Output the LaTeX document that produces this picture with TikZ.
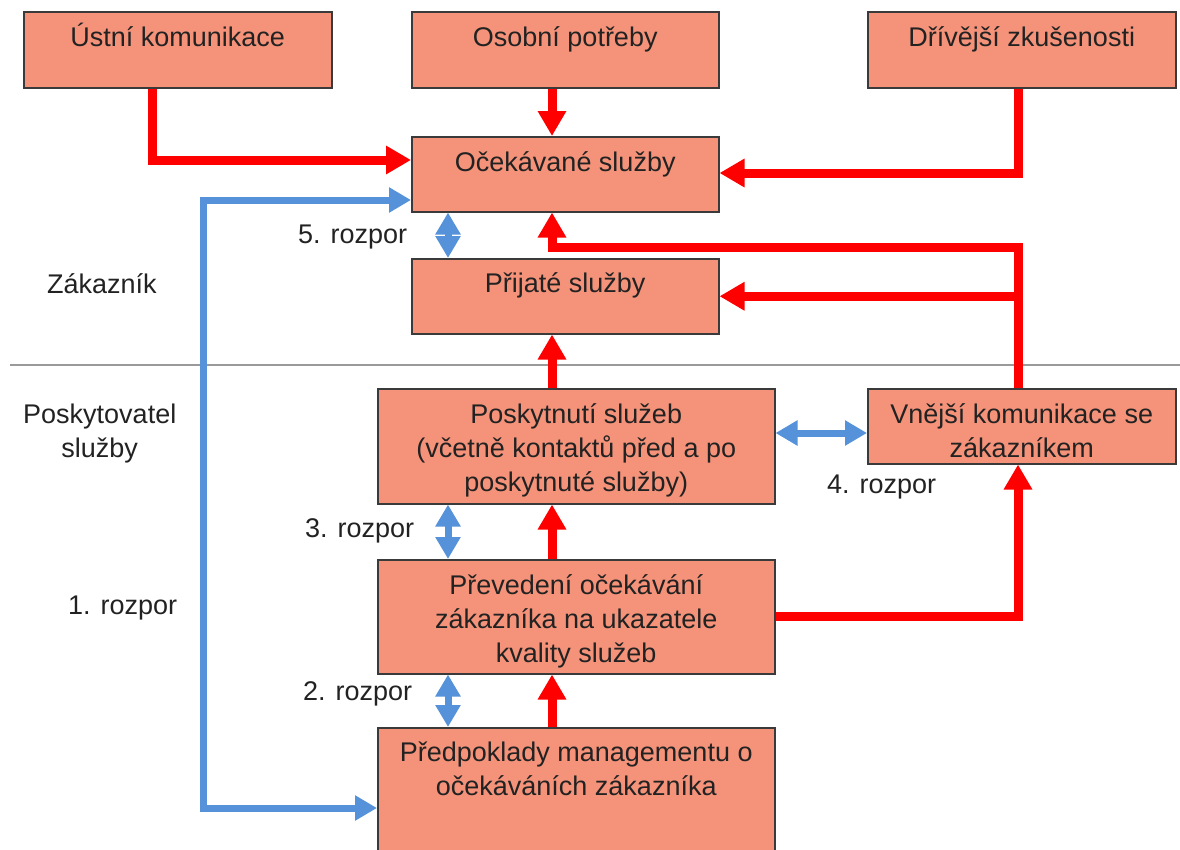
\documentclass[tikz,border=0pt]{standalone}
\usepackage{fontspec}
\setmainfont{Liberation Sans}
\usetikzlibrary{arrows.meta}
\definecolor{boxfill}{HTML}{F5937A}
\definecolor{boxline}{HTML}{3A3A3A}
\definecolor{arrred}{HTML}{FF0000}
\definecolor{arrblue}{HTML}{5592DA}
\definecolor{txt}{HTML}{222222}
\definecolor{sepgray}{HTML}{9A9A9A}
\tikzset{
  box/.style={draw=boxline, fill=boxfill, line width=1.5pt, anchor=north west, inner sep=0pt},
  boxtext/.style={anchor=base, align=center, inner sep=0pt, text=txt, font=\fontsize{27}{34}\selectfont},
  freetext/.style={anchor=base west, inner sep=0pt, text=txt, font=\fontsize{27}{34}\selectfont},
  redarr/.style={draw=arrred, line width=9pt, -{Triangle[length=25pt,width=27pt]}},
  bluearr/.style={draw=arrblue, line width=7pt, {Triangle[length=22pt,width=24pt]}-{Triangle[length=22pt,width=24pt]}},
}
\begin{document}
\begin{tikzpicture}[x=1pt,y=-1pt]
\useasboundingbox (0,0) rectangle (1180,849);
\clip (0,0) rectangle (1180,849);
% separator
\draw[sepgray, line width=2.5pt] (10,365) coordinate (s1) -- (1180,365) coordinate (s2);
% boxes
\node[box, minimum width=308pt, minimum height=76pt] (ustni) at (23,11) {};
\node[box, minimum width=307pt, minimum height=76pt] (osobni) at (411,11) {};
\node[box, minimum width=308pt, minimum height=76pt] (driv) at (867,11) {};
\node[box, minimum width=307pt, minimum height=75pt] (ocek) at (411,136) {};
\node[box, minimum width=307pt, minimum height=75pt] (prijate) at (411,258) {};
\node[box, minimum width=397pt, minimum height=115pt] (posk) at (377,388) {};
\node[box, minimum width=308pt, minimum height=75pt] (vnejsi) at (867,388) {};
\node[box, minimum width=397pt, minimum height=114pt] (prev) at (377,559) {};
\node[box, minimum width=397pt, minimum height=162pt] (predp) at (377,727) {};
% box texts
\node[boxtext] (tustni) at ([yshift=-35pt]ustni.north) {Ústní komunikace};
\node[boxtext] (tosobni) at ([yshift=-35pt]osobni.north) {Osobní potřeby};
\node[boxtext] (tdriv) at ([yshift=-35pt]driv.north) {Dřívější zkušenosti};
\node[boxtext] (tocek) at ([yshift=-35pt]ocek.north) {Očekávané služby};
\node[boxtext] (tprijate) at ([yshift=-34pt]prijate.north) {Přijaté služby};
\node[boxtext, anchor=north] (tposk) at ([yshift=-15pt]posk.north) {Poskytnutí služeb\\(včetně kontaktů před a po\\poskytnuté služby)};
\node[boxtext, anchor=north] (tvnejsi) at ([yshift=-15pt]vnejsi.north) {Vnější komunikace se\\zákazníkem};
\node[boxtext, anchor=north] (tprev) at ([yshift=-15pt]prev.north) {Převedení očekávání\\zákazníka na ukazatele\\kvality služeb};
\node[boxtext, anchor=north] (tpredp) at ([yshift=-15pt]predp.north) {Předpoklady managementu o\\očekáváních zákazníka};
% free labels
\node[freetext] (l5) at (298,243) {5. rozpor};
\node[freetext] (lzak) at (47,293) {Zákazník};
\node[freetext, align=center] (lposk) at (23,457) {Poskytovatel\\služby};
\node[freetext] (l4) at (827,493) {4. rozpor};
\node[freetext] (l3) at (305,537) {3. rozpor};
\node[freetext] (l1) at (68,614) {1. rozpor};
\node[freetext] (l2) at (303,700) {2. rozpor};
% helper coordinates
\coordinate (xr) at (552,0);
\coordinate (xb) at (448,0);
\coordinate (u1) at (152,160);
\coordinate (d1) at (1018,173);
\coordinate (r1) at (1018,247);
\coordinate (r2) at (552,247);
\coordinate (p1) at (1018,616);
\coordinate (b1) at (203,200);
\coordinate (b2) at (203,808);
\coordinate (yb) at (0,433);
% red connectors
\draw[redarr] (u1 |- ustni.south) -- (u1) -- (ocek.west |- u1);
\draw[redarr] (xr |- osobni.south) -- (xr |- ocek.north);
\draw[redarr] (d1 |- driv.south) -- (d1) -- (ocek.east |- d1);
\draw[redarr] (r1 |- vnejsi.north) -- (r1) -- (r2) -- (r2 |- ocek.south);
\draw[redarr] (r1 |- prijate.east) -- (prijate.east);
\draw[redarr] (xr |- posk.north) -- (xr |- prijate.south);
\draw[redarr] (xr |- prev.north) -- (xr |- posk.south);
\draw[redarr] (xr |- predp.north) -- (xr |- prev.south);
\draw[redarr] (prev.east |- p1) -- (p1) -- (p1 |- vnejsi.south);
% blue connectors
\draw[bluearr] (ocek.west |- b1) -- (b1) -- (b2) -- (predp.west |- b2);
\draw[bluearr] (xb |- ocek.south) -- (xb |- prijate.north);
\draw[bluearr] (xb |- posk.south) -- (xb |- prev.north);
\draw[bluearr] (xb |- prev.south) -- (xb |- predp.north);
\draw[bluearr] (posk.east |- yb) -- (vnejsi.west |- yb);
\end{tikzpicture}
\end{document}
